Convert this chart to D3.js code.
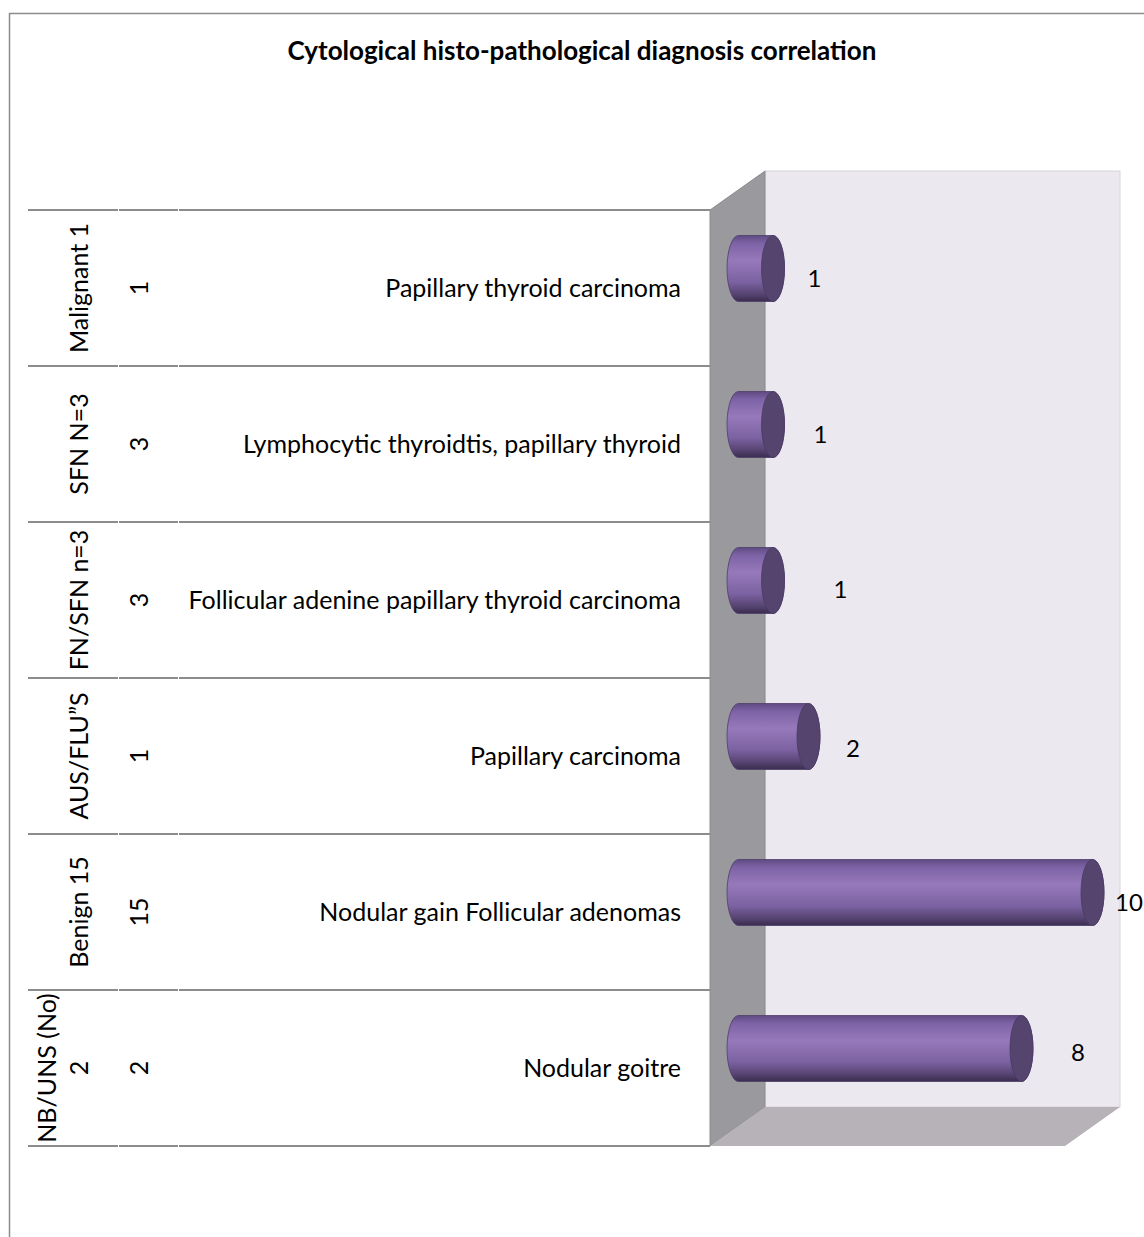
<!DOCTYPE html>
<html>
<head>
<meta charset="utf-8">
<script src="https://cdn.jsdelivr.net/npm/d3@7"></script>
<style>
  body { margin: 0; background: #fff; }
  svg { display: block; }
  text { font-family: Lato, "Open Sans", sans-serif; fill: #000; }
</style>
</head>
<body>
<svg id="chart"></svg>
<script>
const title = "Cytological histo-pathological diagnosis correlation";

// outer level (can be two lines), middle level, inner level
const groups = [["Malignant 1"], ["SFN N=3"], ["FN/SFN n=3"], ["AUS/FLU”S"], ["Benign 15"], ["NB/UNS (No)", "2"]];
const counts = ["1", "3", "3", "1", "15", "2"];
const diagnoses = [
   "Papillary thyroid carcinoma",
   "Lymphocytic thyroidtis, papillary thyroid",
   "Follicular adenine papillary thyroid carcinoma",
   "Papillary carcinoma",
   "Nodular gain Follicular adenomas",
   "Nodular goitre"
];
const values = [1, 1, 1, 2, 10, 8];
const xDomain = [0, 10];

const width = 1144, height = 1237;
const depthX = 55, depthY = -39;
const fontSize = 25;
// excel puts the 3d labels a bit wherever it likes
const labelNudgeX = [30, 36, 56, 33, 25, 45];
const labelNudgeY = [10, 10, 9, 12, 10, 4];

const svg = d3.select("#chart").attr("width", width).attr("height", height);

// outer chart frame
svg.append("rect")
   .attr("x", 9.5).attr("y", 13.5)
   .attr("width", 1200).attr("height", 1300)
   .attr("fill", "#fff").attr("stroke", "#8c8c8c").attr("stroke-width", 1.5);

svg.append("text")
   .attr("x", 582).attr("y", 60)
   .attr("text-anchor", "middle")
   .style("font-weight", "bold").style("font-size", "26px")
   .text(title);

const rows = d3.range(values.length);
const yScale = d3.scaleBand().domain(rows).range([210, 1146]);
const xScale = d3.scaleLinear().domain(xDomain).range([710, 1065]);

const y0 = yScale.range()[0], y1 = yScale.range()[1];
const xa = xScale(xDomain[0]), xb = xScale(xDomain[1]);

const defs = svg.append("defs");
const grad = defs.append("linearGradient")
   .attr("id", "cyl").attr("x1", 0).attr("y1", 0).attr("x2", 0).attr("y2", 1);
[["0%", "#5f4a82"], ["12%", "#7d63a6"], ["38%", "#9679ba"], ["70%", "#7c62a2"], ["90%", "#54426f"], ["100%", "#3a2c50"]]
   .forEach(([o, c]) => grad.append("stop").attr("offset", o).attr("stop-color", c));

// walls
svg.append("rect")
   .attr("x", xa + depthX).attr("y", y0 + depthY)
   .attr("width", xb - xa).attr("height", y1 - y0)
   .attr("fill", "#ebe8f0").attr("stroke", "#d6d4da").attr("stroke-width", 1);

svg.append("polygon")
   .attr("points", [[xa, y0], [xa + depthX, y0 + depthY], [xa + depthX, y1 + depthY], [xa, y1]].join(" "))
   .attr("fill", "#9a999d").attr("stroke", "#8c8c8c").attr("stroke-width", 1);

svg.append("polygon")
   .attr("points", [[xa, y1], [xa + depthX, y1 + depthY], [xb + depthX, y1 + depthY], [xb, y1]].join(" "))
   .attr("fill", "#b6b2b8");

// category table lines
const colEdges = [28, 118, 178, xa];
const lines = svg.append("g").attr("stroke", "#8c8c8c").attr("stroke-width", 2);
d3.range(values.length + 1).forEach(i => {
   const yy = y0 + i * yScale.bandwidth();
   for (let c = 0; c < colEdges.length - 1; c++) {
      lines.append("line")
         .attr("x1", colEdges[c] + (c ? 1 : 0)).attr("x2", colEdges[c + 1])
         .attr("y1", yy).attr("y2", yy);
   }
});

const mid = i => yScale(i) + yScale.bandwidth() / 2;

// outer level, rotated
svg.append("g").selectAll("text")
   .data(groups)
   .join("text")
   .attr("transform", (d, i) => `translate(${79 - (d.length - 1) * 32},${mid(i)}) rotate(-90)`)
   .attr("text-anchor", "middle")
   .style("font-size", fontSize + "px")
   .each(function (d) {
      d3.select(this).selectAll("tspan")
         .data(d)
         .join("tspan")
         .attr("x", 0)
         .attr("dy", (t, j) => j ? "1.28em" : "0.36em")
         .text(t => t);
   });

// middle level, rotated
svg.append("g").selectAll("text")
   .data(counts)
   .join("text")
   .attr("transform", (d, i) => `translate(139,${mid(i)}) rotate(-90)`)
   .attr("text-anchor", "middle")
   .attr("dy", "0.36em")
   .style("font-size", fontSize + "px")
   .text(d => d);

// inner level
svg.append("g").selectAll("text")
   .data(diagnoses)
   .join("text")
   .attr("x", 681)
   .attr("y", (d, i) => mid(i))
   .attr("dy", "0.36em")
   .attr("text-anchor", "end")
   .style("font-size", fontSize + "px")
   .text(d => d);

// cylinders sit halfway into the depth
const rx = 11.5, ry = 33;
const bars = svg.append("g").selectAll("g")
   .data(values)
   .join("g");

const cx0 = () => xScale(0) + depthX / 2 + 1;
const cx1 = d => xScale(d) + depthX / 2;
const cy = i => mid(i) + depthY / 2;

bars.append("path")
   .attr("d", (d, i) => {
      const a = cx0(), b = cx1(d), c = cy(i);
      return `M${a},${c - ry}L${b},${c - ry}A${rx},${ry} 0 0 1 ${b},${c + ry}` +
         `L${a},${c + ry}A${rx},${ry} 0 0 1 ${a},${c - ry}Z`;
   })
   .attr("fill", "url(#cyl)")
   .attr("stroke", "#4e3d6a").attr("stroke-width", 0.8);

bars.append("ellipse")
   .attr("cx", d => cx1(d))
   .attr("cy", (d, i) => cy(i))
   .attr("rx", rx).attr("ry", ry)
   .attr("fill", "#54446e")
   .attr("stroke", "#4a3a64").attr("stroke-width", 0.8);

// value labels
svg.append("g").selectAll("text")
   .data(values)
   .join("text")
   .attr("x", (d, i) => cx1(d) + rx + labelNudgeX[i])
   .attr("y", (d, i) => cy(i) + labelNudgeY[i])
   .attr("dy", "0.36em")
   .attr("text-anchor", "middle")
   .style("font-size", "24px")
   .text(d => d);
</script>
</body>
</html>
